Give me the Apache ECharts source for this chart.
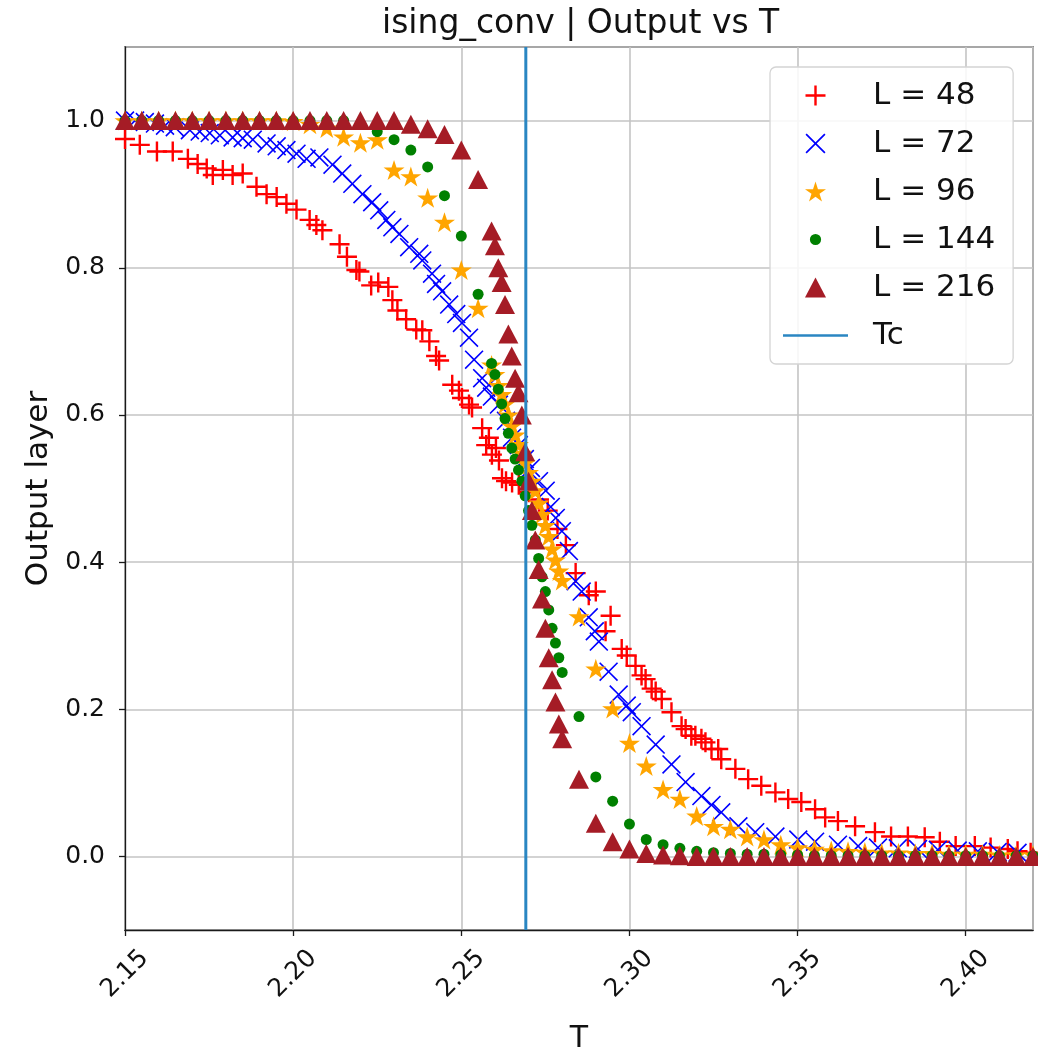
<!DOCTYPE html>
<html>
<head>
<meta charset="utf-8">
<script src="https://cdn.jsdelivr.net/npm/echarts@6/dist/echarts.min.js"></script>
<style>
  html, body { margin: 0; padding: 0; background: #fff; }
  #chart { width: 1038px; height: 1052px; }
</style>
</head>
<body>
<div id="chart"></div>
<script>
// Critical temperature of the 2D Ising model
const TC = 2.269185;

// L = 48
const TEMPS_L48 = [2.1500,2.1544,2.1595,2.1642,2.1687,2.1716,2.1743,2.1761,2.1791,2.1820,
  2.1850,2.1891,2.1921,2.1951,2.1980,2.2010,2.2049,2.2069,2.2087,2.2138,
  2.2160,2.2188,2.2197,2.2232,2.2253,2.2283,2.2295,2.2310,2.2336,2.2366,
  2.2384,2.2405,2.2425,2.2434,2.2473,2.2493,2.2502,2.2523,2.2532,2.2562,
  2.2574,2.2582,2.2591,2.2603,2.2612,2.2621,2.2633,2.2651,2.2671,2.2701,
  2.2731,2.2757,2.2786,2.2811,2.2840,2.2879,2.2900,2.2929,2.2944,2.2977,
  2.2992,2.3018,2.3036,2.3048,2.3066,2.3078,2.3096,2.3125,2.3155,2.3167,
  2.3184,2.3196,2.3214,2.3226,2.3244,2.3264,2.3273,2.3315,2.3353,2.3392,
  2.3434,2.3472,2.3511,2.3552,2.3582,2.3620,2.3671,2.3730,2.3778,2.3828,
  2.3878,2.3923,2.3970,2.4027,2.4074,2.4125,2.4154,2.4193];
const OUT_L48 = [0.975,0.967,0.958,0.958,0.948,0.941,0.935,0.926,0.933,0.926,
  0.928,0.910,0.900,0.896,0.887,0.879,0.865,0.858,0.851,0.832,
  0.815,0.797,0.795,0.776,0.780,0.774,0.756,0.742,0.730,0.716,
  0.715,0.700,0.680,0.674,0.641,0.633,0.623,0.614,0.610,0.582,
  0.559,0.569,0.546,0.555,0.538,0.514,0.510,0.508,0.505,0.495,
  0.485,0.470,0.445,0.423,0.385,0.355,0.360,0.306,0.327,0.282,
  0.273,0.259,0.246,0.241,0.228,0.224,0.214,0.196,0.177,0.173,
  0.164,0.164,0.160,0.155,0.146,0.146,0.132,0.119,0.105,0.096,
  0.087,0.078,0.074,0.064,0.053,0.048,0.041,0.033,0.027,0.027,
  0.026,0.020,0.014,0.014,0.012,0.010,0.007,0.005];

// L = 72
const TEMPS_L72 = [2.1500,2.1530,2.1559,2.1589,2.1619,2.1648,2.1693,2.1722,2.1752,2.1782,
  2.1820,2.1850,2.1880,2.1921,2.1951,2.1980,2.2010,2.2040,2.2078,2.2117,
  2.2146,2.2176,2.2206,2.2235,2.2256,2.2277,2.2295,2.2316,2.2345,2.2375,
  2.2384,2.2413,2.2425,2.2443,2.2464,2.2485,2.2502,2.2523,2.2538,2.2562,
  2.2574,2.2591,2.2612,2.2633,2.2651,2.2671,2.2689,2.2707,2.2731,2.2751,
  2.2766,2.2781,2.2799,2.2820,2.2840,2.2858,2.2879,2.2897,2.2909,2.2938,
  2.2968,2.2992,2.3007,2.3036,2.3078,2.3125,2.3167,2.3214,2.3244,2.3273,
  2.3324,2.3374,2.3434,2.3502,2.3552,2.3620,2.3680,2.3739,2.3798,2.3858,
  2.3917,2.3976,2.4036,2.4095,2.4154];
const OUT_L72 = [1.000,1.000,0.998,0.996,0.993,0.991,0.987,0.985,0.983,0.980,
  0.977,0.976,0.974,0.969,0.965,0.960,0.955,0.948,0.950,0.940,
  0.928,0.914,0.900,0.889,0.878,0.865,0.855,0.846,0.828,0.819,
  0.810,0.792,0.778,0.768,0.750,0.737,0.725,0.705,0.675,0.650,
  0.637,0.625,0.614,0.592,0.569,0.559,0.540,0.528,0.510,0.497,
  0.475,0.460,0.442,0.415,0.374,0.360,0.325,0.306,0.292,0.251,
  0.220,0.205,0.196,0.177,0.152,0.125,0.101,0.082,0.070,0.060,
  0.041,0.033,0.027,0.023,0.020,0.016,0.014,0.012,0.011,0.010,
  0.009,0.008,0.007,0.006,0.005];

// Shared temperature grid for L = 96, 144, 216 (coarse + refined near Tc)
const TEMPS_GRID = [2.150,2.155,2.160,2.165,2.170,2.175,2.180,2.185,2.190,2.195,2.200,
  2.205,2.210,2.215,2.220,2.225,2.230,2.235,2.240,2.245,2.250,2.255,
  2.259,2.260,2.261,2.262,2.263,2.264,2.265,2.266,2.267,2.268,2.269,
  2.270,2.271,2.272,2.273,2.274,2.275,2.276,2.277,2.278,2.279,
  2.280,2.285,2.290,2.295,2.300,2.305,2.310,2.315,2.320,2.325,2.330,
  2.335,2.340,2.345,2.350,2.355,2.360,2.365,2.370,2.375,2.380,2.385,
  2.390,2.395,2.400,2.405,2.410,2.415,2.420];

const OUT_L96 = [1.000,1.000,1.000,1.000,1.000,1.000,1.000,1.000,1.000,1.000,0.999,
  0.995,0.990,0.978,0.970,0.974,0.933,0.924,0.895,0.862,0.797,0.745,
  0.668,0.655,0.640,0.628,0.615,0.600,0.585,0.573,0.560,0.548,0.535,
  0.522,0.510,0.497,0.480,0.465,0.450,0.435,0.418,0.403,0.388,
  0.375,0.326,0.255,0.201,0.154,0.123,0.091,0.078,0.055,0.041,0.037,
  0.027,0.023,0.016,0.012,0.010,0.008,0.007,0.006,0.005,0.005,0.004,
  0.004,0.003,0.003,0.003,0.002,0.002,0.002];

const OUT_L144 = [1.000,1.000,1.000,1.000,1.000,1.000,1.000,1.000,1.000,1.000,1.000,
  1.000,1.000,1.000,0.995,0.985,0.974,0.960,0.937,0.898,0.843,0.764,
  0.670,0.655,0.635,0.615,0.595,0.575,0.555,0.540,0.525,0.510,0.490,
  0.470,0.450,0.430,0.405,0.380,0.360,0.335,0.310,0.290,0.270,
  0.250,0.190,0.108,0.075,0.044,0.023,0.016,0.011,0.007,0.005,0.004,
  0.003,0.003,0.002,0.002,0.001,0.001,0.001,0.001,0.001,0.001,0.001,
  0.001,0.001,0.001,0.001,0.001,0.001,0.001];

const OUT_L216 = [1.000,1.000,1.000,1.000,1.000,1.000,1.000,1.000,1.000,1.000,1.000,
  1.000,1.000,1.000,1.000,1.000,1.000,0.995,0.989,0.981,0.960,0.920,
  0.850,0.830,0.800,0.780,0.750,0.710,0.680,0.650,0.630,0.600,0.550,
  0.510,0.470,0.430,0.390,0.350,0.310,0.270,0.240,0.210,0.180,
  0.160,0.105,0.045,0.020,0.010,0.004,0.002,0.001,0.000,0.000,0.000,
  0.000,0.000,0.000,0.000,0.000,0.000,0.000,0.000,0.000,0.000,0.000,
  0.000,0.000,0.000,0.000,0.000,0.000,0.000];

const SERIES_NAMES = ['L = 48', 'L = 72', 'L = 96', 'L = 144', 'L = 216'];
const TC_NAME = 'Tc';

// Marker shapes (unit box 100x100)
const PLUS = 'path://M0,44H100V56H0Z M44,0H56V100H44Z';
const CROSS = 'path://M6,0L50,44L94,0L100,6L56,50L100,94L94,100L50,56L6,100L0,94L44,50L0,6Z';
const STAR = 'path://M50,0L61.23,34.55L97.55,34.55L68.17,55.9L79.39,90.45L50,69.1L20.61,90.45L31.83,55.9L2.45,34.55L38.77,34.55Z';
const TRIANGLE = 'path://M50,0L100,95L0,95Z';
const DOT_ICON = 'path://M0,0M100,100M50,22A28,28,0,1,1,49.99,22Z';
const LINE_ICON = 'path://M0,0H100V4H0Z';

const FONT = 'DejaVu Sans';

function pairs(xs, ys) { return xs.map((x, i) => [x, ys[i]]); }

const chart = echarts.init(document.getElementById('chart'), null, { renderer: 'canvas' });

function scatter(name, xs, ys, symbol, size, color) {
  return {
    name: name,
    type: 'scatter',
    data: pairs(xs, ys),
    symbol: symbol,
    symbolSize: size,
    itemStyle: { color: color, opacity: 1 },
    emphasis: { disabled: true },
    silent: true,
    animation: false
  };
}

const option = {
  animation: false,
  backgroundColor: '#ffffff',
  title: {
    text: 'ising_conv | Output vs T',
    left: 382,
    top: 8,
    padding: 0,
    textStyle: { fontFamily: FONT, fontSize: 33, fontWeight: 'normal', color: '#111' }
  },
  grid: {
    left: 125, right: 5, top: 47, bottom: 122,
    outerBoundsMode: 'none',
    containLabel: false,
    show: true, borderColor: '#1a1a1a', borderWidth: 1.3, backgroundColor: 'transparent'
  },
  legend: {
    orient: 'vertical',
    left: 770, top: 67,
    padding: [13, 18, 13, 13],
    itemWidth: 65, itemHeight: 20, itemGap: 17,
    backgroundColor: 'rgba(255,255,255,0.85)',
    borderColor: '#d4d4d4', borderWidth: 1.3, borderRadius: 6,
    textStyle: { fontFamily: FONT, fontSize: 31, color: '#111', padding: [0, 0, 0, 20] },
    symbolRotate: 0,
    data: [
      { name: SERIES_NAMES[0], icon: PLUS },
      { name: SERIES_NAMES[1], icon: CROSS },
      { name: SERIES_NAMES[2], icon: STAR },
      { name: SERIES_NAMES[3], icon: DOT_ICON },
      { name: SERIES_NAMES[4], icon: TRIANGLE },
      { name: TC_NAME, icon: LINE_ICON }
    ],
    selectedMode: false
  },
  xAxis: {
    type: 'value',
    min: 2.15, max: 2.42, interval: 0.05,
    name: 'T', nameLocation: 'middle', nameGap: 94,
    nameTextStyle: { fontFamily: FONT, fontSize: 30, color: '#111' },
    axisLine: { show: true, onZero: false, lineStyle: { color: '#1a1a1a', width: 1.3 } },
    axisTick: { show: true, length: 6, inside: false, lineStyle: { color: '#1a1a1a', width: 1.3 } },
    splitLine: { show: true, lineStyle: { color: '#c4c4c4', width: 1.6 } },
    axisLabel: {
      rotate: 45, margin: 44, align: 'center', verticalAlign: 'middle',
      fontFamily: FONT, fontSize: 25, color: '#111',
      showMaxLabel: false,
      formatter: v => v.toFixed(2)
    }
  },
  yAxis: {
    type: 'value',
    min: -0.1, max: 1.1, splitNumber: 6,
    name: 'Output layer', nameLocation: 'middle', nameGap: 70, nameRotate: 90,
    nameTextStyle: { fontFamily: FONT, fontSize: 31, color: '#111' },
    axisLine: { show: true, onZero: false, lineStyle: { color: '#1a1a1a', width: 1.3 } },
    axisTick: { show: true, length: 6, inside: false, lineStyle: { color: '#1a1a1a', width: 1.3 } },
    splitLine: { show: true, lineStyle: { color: '#c4c4c4', width: 1.6 } },
    axisLabel: {
      margin: 20, fontFamily: FONT, fontSize: 25, color: '#111',
      showMinLabel: false, showMaxLabel: false,
      formatter: v => v.toFixed(1)
    }
  },
  series: [
    scatter(SERIES_NAMES[0], TEMPS_L48, OUT_L48, PLUS, 20, '#ff0000'),
    scatter(SERIES_NAMES[1], TEMPS_L72, OUT_L72, CROSS, 19, '#0000ff'),
    scatter(SERIES_NAMES[2], TEMPS_GRID, OUT_L96, STAR, [21, 20], '#ffa500'),
    scatter(SERIES_NAMES[3], TEMPS_GRID, OUT_L144, 'circle', 11, '#008000'),
    scatter(SERIES_NAMES[4], TEMPS_GRID, OUT_L216, TRIANGLE, [20, 19], '#a51c26'),
    {
      name: TC_NAME,
      type: 'line',
      data: [[TC, -0.1], [TC, 1.1]],
      symbol: 'none',
      lineStyle: { color: '#2a86c2', width: 3 },
      itemStyle: { color: '#2a86c2' },
      silent: true,
      z: 5,
      animation: false
    }
  ]
};

chart.setOption(option);
</script>
</body>
</html>
